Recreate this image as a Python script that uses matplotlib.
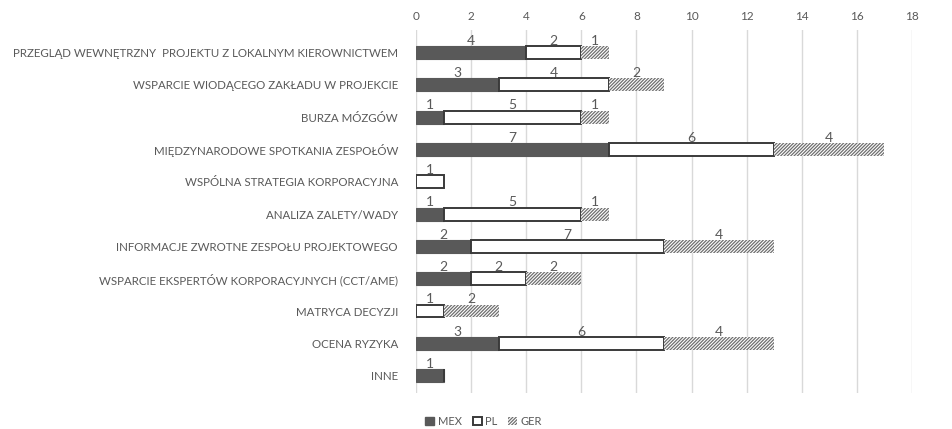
import matplotlib
matplotlib.use("Agg")
import matplotlib.pyplot as plt
from matplotlib.patches import Patch
import numpy as np

plt.rcParams['font.family'] = ['Lato', 'DejaVu Sans']
plt.rcParams['hatch.linewidth'] = 0.9
plt.rcParams['hatch.color'] = '#6f6f6f'

categories = [
    "PRZEGLĄD WEWNĘTRZNY  PROJEKTU Z LOKALNYM KIEROWNICTWEM",
    "WSPARCIE WIODĄCEGO ZAKŁADU W PROJEKCIE",
    "BURZA MÓZGÓW",
    "MIĘDZYNARODOWE SPOTKANIA ZESPOŁÓW",
    "WSPÓLNA STRATEGIA KORPORACYJNA",
    "ANALIZA ZALETY/WADY",
    "INFORMACJE ZWROTNE ZESPOŁU PROJEKTOWEGO",
    "WSPARCIE EKSPERTÓW KORPORACYJNYCH (CCT/AME)",
    "MATRYCA DECYZJI",
    "OCENA RYZYKA",
    "INNE",
]
mex = [4, 3, 1, 7, 0, 1, 2, 2, 0, 3, 1]
pl = [2, 4, 5, 6, 1, 5, 7, 2, 1, 6, 0]
ger = [1, 2, 1, 4, 0, 1, 4, 2, 2, 4, 0]
x_ticks = [0, 2, 4, 6, 8, 10, 12, 14, 16, 18]

text_color = '#595959'

fig = plt.figure(figsize=(9.52, 4.29), dpi=100)
ax = fig.add_axes([0.437, 0.083, 0.521, 0.847])

y = np.arange(len(categories))
h = 0.4
mex_a = np.array(mex)
pl_a = np.array(pl)
ger_a = np.array(ger)

ax.barh(y, mex_a, height=h, color='#595959', edgecolor='#595959', linewidth=0.8, zorder=3)
ax.barh(y, pl_a, left=mex_a, height=h, color='white', edgecolor='#3a3a3a', linewidth=1.4, zorder=3)
ax.barh(y, ger_a, left=mex_a + pl_a, height=h, color='white', edgecolor='#6f6f6f',
        hatch='//////////', linewidth=0, zorder=3)

# value labels centred above each segment
for i in range(len(categories)):
    starts = [0, mex[i], mex[i] + pl[i]]
    for s, v in zip(starts, [mex[i], pl[i], ger[i]]):
        if v:
            ax.text(s + v / 2, y[i] - h / 2 + 0.02, str(v), ha='center', va='bottom',
                    fontsize=10, color=text_color, zorder=4)

ax.set_xlim(0, 18)
ax.set_ylim(len(categories) - 0.45, -0.7)
ax.set_xticks(x_ticks)
ax.xaxis.tick_top()
ax.tick_params(axis='x', length=0, pad=6, labelsize=8.5, labelcolor=text_color)
ax.set_yticks(y)
ax.set_yticklabels(categories)
ax.tick_params(axis='y', length=0, pad=13, labelsize=8.3, labelcolor=text_color)
ax.grid(axis='x', color='#d9d9d9', linewidth=1, zorder=0)
for sp in ax.spines.values():
    sp.set_visible(False)

handles = [
    Patch(facecolor='#595959', edgecolor='#595959', label='MEX'),
    Patch(facecolor='white', edgecolor='#3a3a3a', linewidth=1.4, label='PL'),
    Patch(facecolor='white', edgecolor='#6f6f6f', hatch='//////////', linewidth=0, label='GER'),
]
fig.legend(handles=handles, loc='center', bbox_to_anchor=(0.508, 0.018), ncol=3,
           frameon=False, fontsize=8, labelcolor=text_color, handlelength=0.8,
           handleheight=0.8, handletextpad=0.3, columnspacing=1.0)

fig.savefig('out.png', dpi=100)
